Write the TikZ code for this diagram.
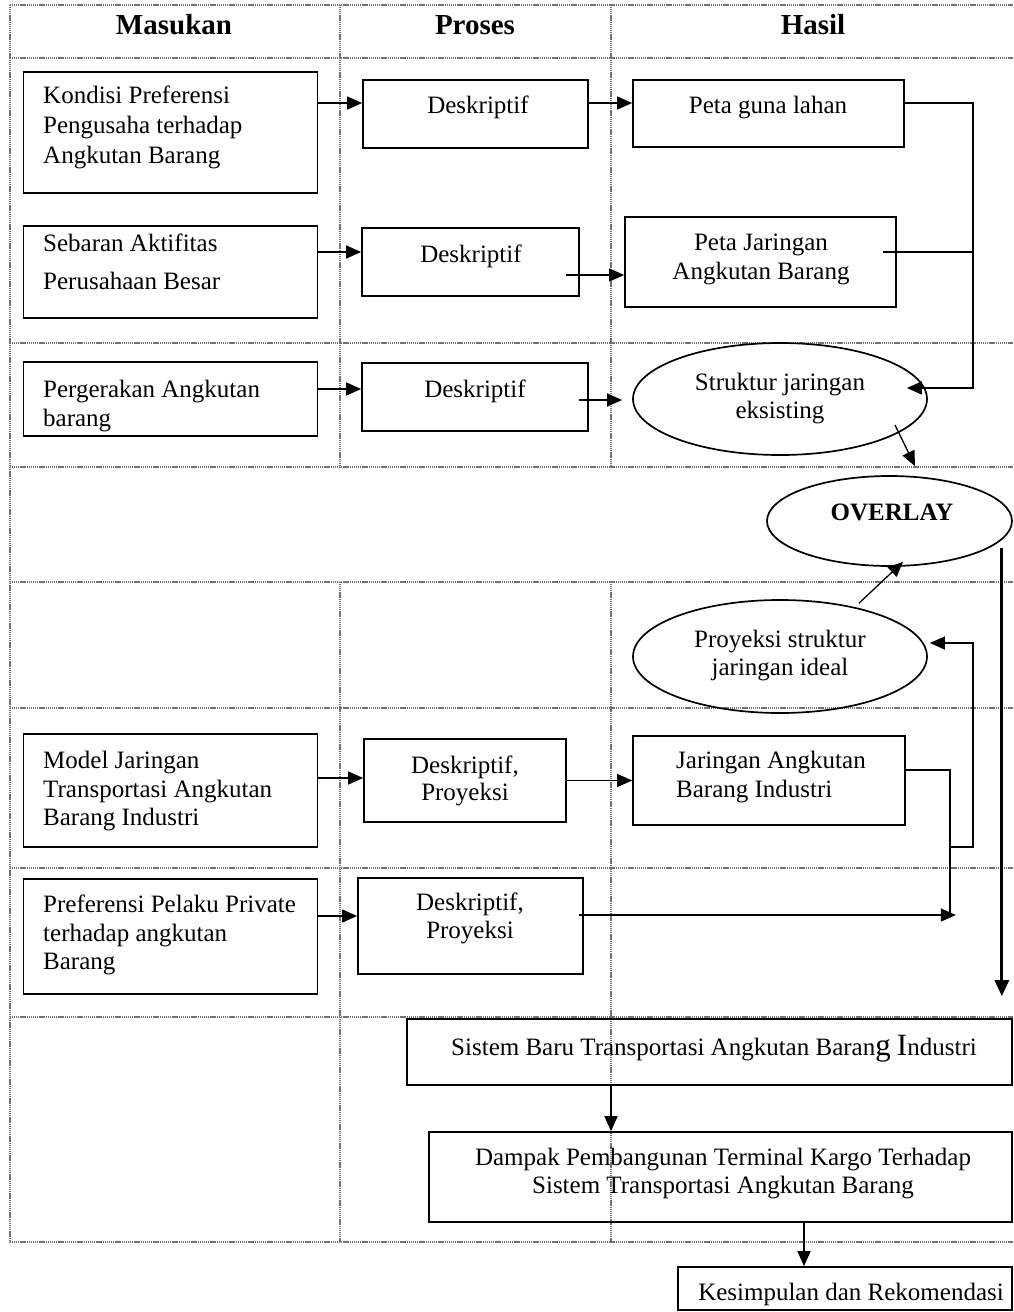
\documentclass[tikz,border=0pt]{standalone}
\usepackage{fontspec}
\setmainfont{Liberation Serif}
\usetikzlibrary{calc,shapes.geometric,arrows.meta}
\begin{document}
\begin{tikzpicture}[x=1pt,y=-1pt,
  grid/.style={black!55, line width=1.4pt, dash pattern=on 1.2pt off 0.7pt},
  box/.style={draw, line width=1.7pt, rectangle, inner sep=0pt},
  oval/.style={draw, line width=1.7pt, ellipse, inner sep=0pt},
  txt/.style={inner sep=0pt, font=\fontsize{25}{29}\selectfont},
  head/.style={inner sep=0pt, font=\fontsize{29}{33}\selectfont\bfseries},
  link/.style={line width=1.3pt},
  arr/.style={link, -{Triangle[length=15pt,width=13pt]}},
  bigarr/.style={line width=3pt, -{Triangle[length=16pt,width=14pt]}},
]
\useasboundingbox (0,0) rectangle (1013,1312);

% table grid
\foreach \y in {5,58,343,467,582,708,868,1017,1242}
  \draw[grid] (10,\y) -- (1013,\y);
\draw[grid] (10,5) -- (10,1242);
\foreach \x in {340,611} {
  \draw[grid] (\x,5) -- (\x,467);
  \draw[grid] (\x,582) -- (\x,1242);
}

% column headings
\node[head, anchor=base] (hM) at (174,34) {Masukan};
\node[head, anchor=base] (hP) at (475,34) {Proses};
\node[head, anchor=base] (hH) at (813,34) {Hasil};

% input boxes
\node[box, minimum width=294pt, minimum height=121pt] (kond) at (170.5,132.5) {};
\node[box, minimum width=294pt, minimum height=92pt] (seb) at (170.5,272) {};
\node[box, minimum width=294pt, minimum height=74pt] (perg) at (170.5,399) {};
\node[box, minimum width=294pt, minimum height=113pt] (model) at (170.5,790.5) {};
\node[box, minimum width=294pt, minimum height=115pt] (pref) at (170.5,936.5) {};

\node[txt, anchor=north west, align=left, font=\fontsize{25}{30}\selectfont] (tK) at (43,86)
  {Kondisi Preferensi\\Pengusaha terhadap\\Angkutan Barang};
\node[txt, anchor=north west, align=left, font=\fontsize{25}{38}\selectfont] (tS) at (43,234)
  {Sebaran Aktifitas\\Perusahaan Besar};
\node[txt, anchor=north west, align=left] (tP) at (43,380)
  {Pergerakan Angkutan\\barang};
\node[txt, anchor=north west, align=left, font=\fontsize{25}{28.5}\selectfont] (tMo) at (43,751)
  {Model Jaringan\\Transportasi Angkutan\\Barang Industri};
\node[txt, anchor=north west, align=left, font=\fontsize{25}{28.5}\selectfont] (tPr) at (43,895)
  {Preferensi Pelaku Private\\terhadap angkutan\\Barang};

% process boxes
\node[box, minimum width=225pt, minimum height=68pt] (d1) at (475.5,114) {};
\node[box, minimum width=217pt, minimum height=68pt] (d2) at (470.5,262) {};
\node[box, minimum width=226pt, minimum height=68pt] (d3) at (475,397) {};
\node[box, minimum width=202pt, minimum height=83pt] (d4) at (465,780.5) {};
\node[box, minimum width=225pt, minimum height=96pt] (d5) at (470.5,926) {};

\node[txt, anchor=base] (tD1) at (478,113) {Deskriptif};
\node[txt, anchor=base] (tD2) at (471,262) {Deskriptif};
\node[txt, anchor=base] (tD3) at (475,397) {Deskriptif};
\node[txt, anchor=north, align=center, font=\fontsize{25}{27}\selectfont] (tD4) at (465,756)
  {Deskriptif,\\Proyeksi};
\node[txt, anchor=north, align=center, font=\fontsize{25}{28}\selectfont] (tD5) at (470,893)
  {Deskriptif,\\Proyeksi};

% result boxes and ovals
\node[box, minimum width=271pt, minimum height=67pt] (peta1) at (768.5,113.5) {};
\node[box, minimum width=271pt, minimum height=90pt] (peta2) at (760.5,262) {};
\node[box, minimum width=272pt, minimum height=89pt] (jar) at (769,780.5) {};
\node[oval, minimum width=294pt, minimum height=112pt] (struk) at (780,399) {};
\node[oval, minimum width=245pt, minimum height=90pt] (overlay) at (889.5,521) {};
\node[oval, minimum width=294pt, minimum height=113pt] (proy) at (780,656.5) {};

\node[txt, anchor=base] (tPG) at (768,113) {Peta guna lahan};
\node[txt, anchor=north, align=center] (tPJ) at (761,234) {Peta Jaringan\\Angkutan Barang};
\node[txt, anchor=north, align=center, font=\fontsize{25}{28}\selectfont] (tSt) at (780,373)
  {Struktur jaringan\\eksisting};
\node[txt, anchor=base, font=\fontsize{25}{29}\selectfont\bfseries] (tOv) at (892,520) {OVERLAY};
\node[txt, anchor=north, align=center, font=\fontsize{25}{28}\selectfont] (tPy) at (780,630)
  {Proyeksi struktur\\jaringan ideal};
\node[txt, anchor=north west, align=left] (tJa) at (676,751)
  {Jaringan Angkutan\\Barang Industri};

% bottom boxes
\node[box, minimum width=605pt, minimum height=66pt] (sistem) at (709.5,1052) {};
\node[box, minimum width=583pt, minimum height=90pt] (dampak) at (720.5,1177) {};
\node[box, minimum width=334pt, minimum height=43pt] (kesim) at (845,1288.5) {};

\node[txt, anchor=base] (tSi) at (714,1055)
  {Sistem Baru Transportasi Angkutan Baran{\fontsize{31}{31}\selectfont g} {\fontsize{31}{31}\selectfont I}ndustri};
\node[txt, anchor=north, align=center, font=\fontsize{25}{28}\selectfont] (tDa) at (723,1148)
  {Dampak Pembangunan Terminal Kargo Terhadap\\Sistem Transportasi Angkutan Barang};
\node[txt, anchor=base] (tKe) at (851,1300) {Kesimpulan dan Rekomendasi};

% input -> process -> result
\coordinate (a1) at ($(d1.west)+(0,-11)$);
\draw[arr] (kond.east |- a1) -- (a1);
\coordinate (a2) at ($(peta1.west)+(0,-10.5)$);
\draw[arr] (d1.east |- a2) -- (a2);
\coordinate (a3) at ($(d2.west)+(0,-10)$);
\draw[arr] (seb.east |- a3) -- (a3);
\coordinate (a4) at ($(peta2.west)+(0,13)$);
\draw[arr] ($(d2.east |- a4)+(-14,0)$) -- (a4);
\coordinate (a5) at ($(d3.west)+(0,-8)$);
\draw[arr] (perg.east |- a5) -- (a5);
\coordinate (a6) at ($(struk.west)+(-10,1)$);
\draw[arr] ($(d3.east |- a6)+(-10,0)$) -- (a6);

% maps collected into the existing structure
\coordinate (bus) at ($(peta1.east)+(68,-10.5)$);
\coordinate (a7) at ($(struk.east)+(-21,-11)$);
\draw[arr] (peta1.east |- bus) -- (bus) |- (a7);
\coordinate (s8) at ($(peta2.east)+(-14,-10)$);
\draw[link] (s8) -- (s8 -| bus);

% into the overlay
\draw[arr] ($(struk.center)+(115,26)$) -- ($(overlay.north)+(25.5,-9)$);
\draw[arr] ($(proy.north)+(79,4)$) -- ($(overlay.south)+(13.5,-5)$);
\coordinate (dtop) at ($(overlay.east)+(-11,27)$);
\coordinate (dtip) at ($(sistem.north east)+(-11,-22)$);
\draw[bigarr] (dtop) -- (dtip);

% lower rows
\coordinate (a12) at ($(d4.west)+(0,-2.5)$);
\draw[arr] (model.east |- a12) -- (a12);
\draw[arr] (d4.east |- jar.west) -- (jar.west);
\coordinate (a14) at ($(d5.west)+(0,-10)$);
\draw[arr] (pref.east |- a14) -- (a14);

\coordinate (j0) at ($(jar.east)+(0,-10.5)$);
\coordinate (j1) at ($(j0)+(44,0)$);
\coordinate (j2) at ($(j1)+(0,145)$);
\coordinate (j3) at ($(j1)+(0,77)$);
\draw[link] (j0) -- (j1) -- (j2);
\draw[arr] (j3) -- ++(23,0) |- ($(proy.east)+(2,-13.5)$);
\draw[arr] ($(d5.east)+(-5,-11)$) -- ($(j2)+(6,0)$);

% conclusion chain
\draw[arr] ($(sistem.south)+(-98.5,0)$) -- ($(dampak.north)+(-109.5,0)$);
\draw[arr] ($(dampak.south)+(83.5,0)$) -- ($(kesim.north)+(-41,0)$);

\end{tikzpicture}
\end{document}
